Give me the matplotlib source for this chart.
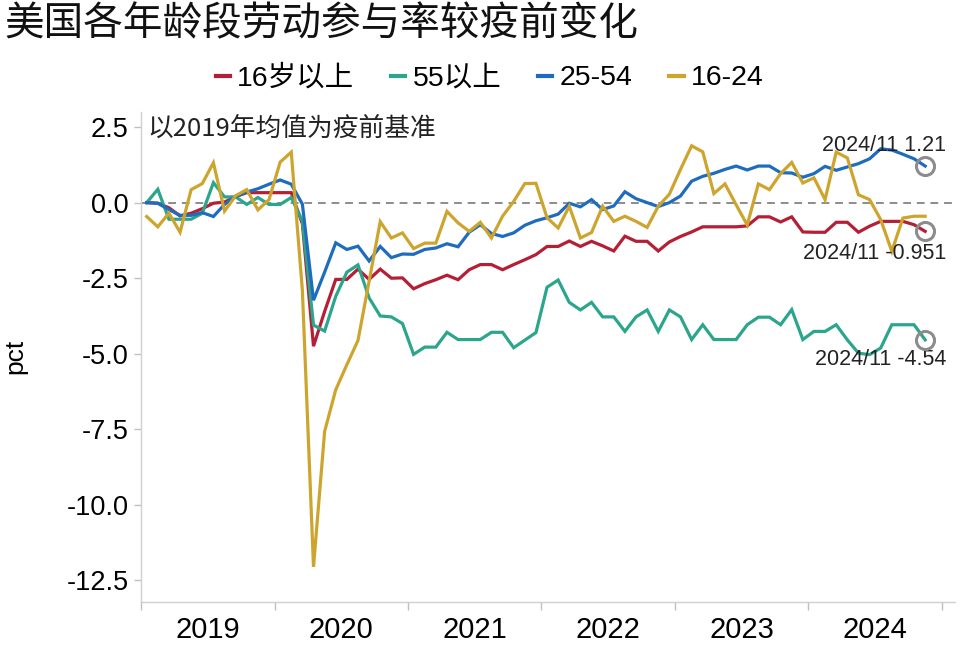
import numpy as np
import matplotlib
matplotlib.use("Agg")
import matplotlib.pyplot as plt
from matplotlib.ticker import FixedLocator, NullFormatter

plt.rcParams['font.family'] = ['Liberation Sans', 'Noto Sans CJK SC', 'DejaVu Sans']
plt.rcParams['axes.unicode_minus'] = False

# monthly, 2019/01 .. 2024/11, change vs. 2019 average (pct)
years = ["2019", "2020", "2021", "2022", "2023", "2024"]
names = ["16岁以上", "55以上", "25-54", "16-24"]

red = [0, -0.02, -0.17, -0.44, -0.35, -0.2, -0.02, 0.02, 0.2, 0.33, 0.33, 0.33,
       0.33, 0.33, -0.7, -4.75, -3.6, -2.54, -2.54, -2.2, -2.54, -2.2, -2.5, -2.49,
       -2.85, -2.68, -2.55, -2.4, -2.55, -2.22, -2.05, -2.05, -2.22, -2.05, -1.89, -1.72,
       -1.45, -1.45, -1.27, -1.45, -1.28, -1.43, -1.6, -1.11, -1.28, -1.28, -1.6, -1.3,
       -1.12, -0.97, -0.8, -0.8, -0.8, -0.8, -0.77, -0.47, -0.47, -0.64, -0.47, -0.97,
       -0.98, -0.98, -0.65, -0.65, -0.98, -0.78, -0.62, -0.62, -0.62, -0.73, -0.951]
green = [0, 0.44, -0.55, -0.55, -0.55, -0.35, 0.66, 0.19, 0.19, -0.06, 0.17, -0.06,
         -0.06, 0.17, -0.6, -4.05, -4.25, -3.1, -2.3, -2.06, -3.15, -3.75, -3.78, -4.0,
         -5.02, -4.78, -4.78, -4.29, -4.53, -4.53, -4.53, -4.29, -4.29, -4.8, -4.55, -4.3,
         -2.8, -2.56, -3.3, -3.55, -3.3, -3.78, -3.78, -4.26, -3.78, -3.55, -4.26, -3.55,
         -3.78, -4.53, -4.04, -4.53, -4.53, -4.53, -4.04, -3.79, -3.79, -4.04, -3.54, -4.53,
         -4.26, -4.26, -4.04, -4.54, -4.98, -5.03, -4.81, -4.04, -4.04, -4.04, -4.54]
blue = [0, -0.02, -0.23, -0.42, -0.42, -0.33, -0.46, -0.06, 0.2, 0.35, 0.46, 0.61,
        0.75, 0.61, -0.05, -3.23, -2.3, -1.33, -1.55, -1.44, -1.93, -1.45, -1.82, -1.7,
        -1.71, -1.55, -1.5, -1.36, -1.46, -0.98, -0.73, -1.02, -1.12, -1.0, -0.75, -0.6,
        -0.5, -0.38, -0.02, -0.14, 0.1, -0.23, -0.11, 0.36, 0.13, 0.0, -0.13, 0.0,
        0.22, 0.71, 0.87, 0.97, 1.1, 1.21, 1.08, 1.21, 1.21, 0.99, 0.98, 0.84,
        0.96, 1.2, 1.07, 1.18, 1.29, 1.45, 1.78, 1.74, 1.6, 1.45, 1.21]
gold = [-0.46, -0.80, -0.35, -0.98, 0.43, 0.63, 1.32, -0.28, 0.23, 0.43, -0.24, 0.10,
        1.34, 1.67, -2.9, -12.05, -7.57, -6.19, -5.36, -4.56, -2.6, -0.63, -1.17, -1.0,
        -1.52, -1.34, -1.34, -0.29, -0.67, -0.95, -0.65, -1.17, -0.45, 0.04, 0.63, 0.64,
        -0.5, -0.84, -0.12, -1.17, -0.99, -0.12, -0.62, -0.45, -0.62, -0.82, -0.12, 0.28,
        1.1, 1.88, 1.68, 0.3, 0.62, -0.07, -0.74, 0.62, 0.43, 0.96, 1.33, 0.65,
        0.82, 0.1, 1.67, 1.48, 0.26, 0.1, -0.56, -1.61, -0.51, -0.45, -0.45]

colors = ["#B51F35", "#2BA68C", "#1F6CBE", "#CDA52E"]
x = np.arange(len(red)) + 0.5

fig = plt.figure(figsize=(9.6, 6.46), dpi=100)
ax = fig.add_axes([0.147, 0.0687, 0.848, 0.758])

for s, c, n in zip([red, green, blue, gold], colors, names):
    ax.plot(x, s, color=c, lw=2.3, label=n, solid_joinstyle="miter")

ax.axhline(0, color="#8c8c8c", lw=1.4, ls=(0, (4, 3)), zorder=0)

ax.set_xlim(0, 73.2)
ax.set_ylim(-13.2, 3.0)
ax.set_yticks([2.5, 0, -2.5, -5, -7.5, -10, -12.5])
ax.set_yticklabels(["2.5", "0.0", "-2.5", "-5.0", "-7.5", "-10.0", "-12.5"], fontsize=19.5)
ax.xaxis.set_major_locator(FixedLocator(np.arange(0, 73, 12)))
ax.xaxis.set_major_formatter(NullFormatter())
ax.xaxis.set_minor_locator(FixedLocator(np.arange(6, 72, 12)))
ax.set_xticklabels(years, minor=True, fontsize=21)
ax.tick_params(axis="x", which="major", length=6, color="#bfbfbf", width=1)
ax.tick_params(axis="x", which="minor", length=0, pad=10)
ax.tick_params(axis="y", length=5, color="#bfbfbf", width=1, pad=4)
for sp in ["top", "right"]:
    ax.spines[sp].set_visible(False)
for sp in ["left", "bottom"]:
    ax.spines[sp].set_color("#d0d0d0")
    ax.spines[sp].set_linewidth(1)

ax.set_ylabel("pct", fontsize=19, labelpad=28)

# end-point markers and labels
ends = [(blue, "2024/11 1.21", 21), (red, "2024/11 -0.951", -22), (green, "2024/11 -4.54", -20)]
for s, txt, dy in ends:
    ax.plot(x[-1], s[-1], "o", ms=13, mfc="none", mec="#8c8c8c", mew=2.2, zorder=5)
    ax.annotate(txt, (x[-1], s[-1]), xytext=(21, dy), textcoords="offset pixels",
                ha="right", va="center", fontsize=15.5, color="#222222")

ax.text(0.6, 2.45, "以2019年均值为疫前基准", fontsize=18.5, va="center",
        family=['Noto Sans CJK SC'], color="#222222")

fig.text(0.005, 0.962, "美国各年龄段劳动参与率较疫前变化", fontsize=28.5, va="center",
         family=['Noto Sans CJK SC'], color="#111111")

leg = fig.legend(loc="center", bbox_to_anchor=(0.51, 0.879), ncol=4, frameon=False,
                 handlelength=0.5, handletextpad=0.25, columnspacing=1.3,
                 prop={"family": ['Liberation Sans', 'Noto Sans CJK SC'], "size": 20.5})
for h in leg.get_lines():
    h.set_linewidth(3)

fig.savefig("out.png", dpi=100)
